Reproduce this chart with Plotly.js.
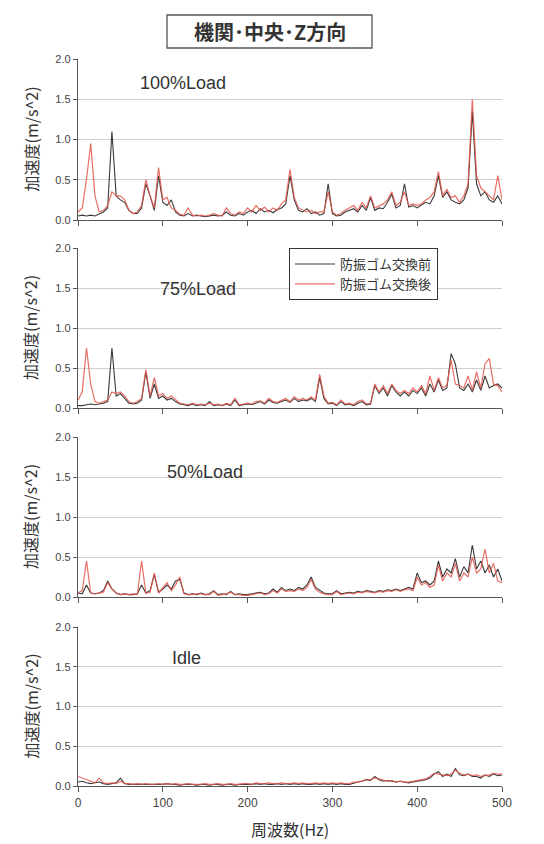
<!DOCTYPE html>
<html><head><meta charset="utf-8">
<script src="https://cdn.plot.ly/plotly-3.0.1.min.js"></script>
<style>html,body{margin:0;padding:0;background:#fff}#chart{width:544px;height:844px}</style>
</head><body><div id="chart"></div>
<script>
const freq = [0,5,10,15,20,25,30,35,40,45,50,55,60,65,70,75,80,85,90,95,
100,105,110,115,120,125,130,135,140,145,150,155,160,165,170,175,180,185,190,195,
200,205,210,215,220,225,230,235,240,245,250,255,260,265,270,275,280,285,290,295,
300,305,310,315,320,325,330,335,340,345,350,355,360,365,370,375,380,385,390,395,
400,405,410,415,420,425,430,435,440,445,450,455,460,465,470,475,480,485,490,495,500];

const xTicks = [0,100,200,300,400,500];
const yTicks = [0,0.5,1.0,1.5,2.0];
const seriesNames = ['防振ゴム交換前','防振ゴム交換後'];
const panelLabels = ['100%Load','75%Load','50%Load','Idle'];

// 100%Load
const before100 = [0.05,0.06,0.05,0.06,0.05,0.07,0.10,0.15,1.10,0.30,
0.25,0.22,0.12,0.08,0.08,0.15,0.45,0.30,0.12,0.55,
0.22,0.18,0.25,0.10,0.06,0.05,0.08,0.05,0.06,0.05,
0.04,0.05,0.06,0.05,0.06,0.10,0.06,0.05,0.08,0.06,
0.10,0.12,0.08,0.14,0.10,0.12,0.09,0.13,0.15,0.20,
0.55,0.25,0.12,0.10,0.14,0.08,0.10,0.06,0.08,0.45,
0.08,0.05,0.06,0.10,0.12,0.14,0.10,0.18,0.12,0.28,
0.12,0.15,0.14,0.22,0.32,0.15,0.18,0.45,0.16,0.18,
0.15,0.18,0.22,0.20,0.30,0.55,0.28,0.35,0.25,0.22,
0.20,0.25,0.40,1.35,0.45,0.30,0.35,0.25,0.22,0.30,0.20];
const after100 = [0.10,0.15,0.50,0.95,0.30,0.10,0.12,0.18,0.35,0.30,
0.30,0.25,0.12,0.08,0.10,0.18,0.50,0.30,0.15,0.65,
0.25,0.28,0.15,0.12,0.07,0.06,0.15,0.06,0.05,0.06,
0.05,0.06,0.08,0.06,0.05,0.15,0.08,0.06,0.10,0.08,
0.15,0.10,0.18,0.12,0.16,0.10,0.15,0.12,0.20,0.25,
0.63,0.28,0.15,0.12,0.10,0.12,0.08,0.10,0.10,0.35,
0.10,0.06,0.08,0.12,0.15,0.18,0.12,0.22,0.15,0.30,
0.15,0.18,0.20,0.25,0.35,0.18,0.22,0.35,0.18,0.20,
0.18,0.20,0.25,0.28,0.35,0.60,0.30,0.38,0.28,0.30,
0.22,0.30,0.45,1.50,0.55,0.40,0.35,0.30,0.25,0.55,0.25];

// 75%Load
const before75 = [0.03,0.03,0.04,0.05,0.04,0.05,0.06,0.08,0.75,0.15,
0.18,0.12,0.06,0.05,0.06,0.10,0.45,0.12,0.30,0.12,
0.15,0.10,0.12,0.08,0.05,0.04,0.03,0.05,0.03,0.04,
0.03,0.08,0.03,0.04,0.03,0.05,0.03,0.10,0.03,0.04,
0.05,0.04,0.06,0.08,0.05,0.10,0.07,0.06,0.08,0.10,
0.07,0.12,0.08,0.10,0.09,0.12,0.08,0.38,0.12,0.05,
0.06,0.03,0.08,0.04,0.05,0.03,0.06,0.08,0.04,0.05,
0.28,0.18,0.25,0.15,0.28,0.20,0.15,0.20,0.15,0.22,
0.18,0.25,0.15,0.30,0.20,0.35,0.22,0.25,0.68,0.55,
0.25,0.22,0.30,0.20,0.35,0.22,0.40,0.25,0.28,0.30,0.25];
const after75 = [0.10,0.20,0.75,0.30,0.08,0.06,0.08,0.10,0.20,0.18,
0.20,0.15,0.08,0.06,0.08,0.12,0.48,0.15,0.38,0.15,
0.18,0.12,0.15,0.10,0.06,0.05,0.04,0.06,0.04,0.05,
0.04,0.06,0.04,0.05,0.03,0.06,0.04,0.12,0.04,0.05,
0.06,0.05,0.08,0.09,0.06,0.12,0.08,0.07,0.10,0.12,
0.08,0.14,0.10,0.12,0.10,0.14,0.10,0.42,0.15,0.06,
0.07,0.04,0.10,0.05,0.06,0.04,0.08,0.10,0.05,0.06,
0.30,0.20,0.28,0.18,0.30,0.22,0.18,0.22,0.18,0.25,
0.20,0.28,0.18,0.40,0.22,0.38,0.25,0.28,0.60,0.30,
0.28,0.25,0.40,0.22,0.45,0.25,0.55,0.62,0.30,0.28,0.20];

// 50%Load
const before50 = [0.05,0.04,0.15,0.05,0.04,0.05,0.08,0.20,0.10,0.05,
0.03,0.04,0.03,0.03,0.04,0.15,0.05,0.08,0.28,0.06,
0.10,0.15,0.10,0.20,0.22,0.05,0.03,0.04,0.03,0.05,
0.03,0.04,0.08,0.03,0.04,0.03,0.07,0.03,0.04,0.03,
0.03,0.04,0.05,0.06,0.04,0.05,0.10,0.06,0.12,0.08,
0.10,0.08,0.12,0.10,0.15,0.25,0.12,0.08,0.05,0.04,
0.04,0.08,0.04,0.05,0.06,0.05,0.07,0.06,0.08,0.07,
0.06,0.08,0.07,0.09,0.08,0.10,0.08,0.10,0.12,0.10,
0.30,0.18,0.20,0.15,0.20,0.45,0.25,0.35,0.30,0.48,
0.25,0.38,0.30,0.65,0.35,0.45,0.30,0.40,0.25,0.35,0.20];
const after50 = [0.05,0.08,0.45,0.05,0.04,0.05,0.06,0.18,0.10,0.05,
0.03,0.04,0.03,0.04,0.03,0.45,0.05,0.06,0.30,0.05,
0.12,0.18,0.08,0.15,0.25,0.04,0.03,0.03,0.04,0.04,
0.03,0.03,0.07,0.02,0.03,0.04,0.06,0.03,0.03,0.02,
0.02,0.03,0.04,0.05,0.03,0.04,0.08,0.05,0.10,0.07,
0.08,0.07,0.10,0.08,0.12,0.22,0.10,0.06,0.04,0.03,
0.03,0.07,0.03,0.04,0.05,0.04,0.06,0.05,0.07,0.06,
0.05,0.07,0.06,0.08,0.07,0.09,0.07,0.09,0.10,0.08,
0.25,0.15,0.18,0.12,0.15,0.40,0.20,0.30,0.25,0.42,
0.20,0.30,0.25,0.50,0.30,0.35,0.60,0.30,0.42,0.20,0.18];

// Idle
const beforeIdle = [0.05,0.06,0.04,0.03,0.04,0.05,0.03,0.02,0.03,0.04,
0.10,0.03,0.02,0.02,0.02,0.02,0.02,0.02,0.02,0.02,
0.02,0.03,0.02,0.02,0.01,0.02,0.02,0.02,0.01,0.02,
0.02,0.01,0.02,0.02,0.01,0.02,0.02,0.01,0.02,0.02,
0.02,0.02,0.03,0.02,0.03,0.02,0.02,0.03,0.02,0.03,
0.02,0.03,0.02,0.03,0.02,0.02,0.03,0.02,0.03,0.02,
0.03,0.02,0.03,0.02,0.02,0.04,0.05,0.06,0.08,0.07,
0.12,0.08,0.06,0.07,0.06,0.05,0.06,0.05,0.04,0.05,
0.06,0.07,0.08,0.10,0.15,0.18,0.12,0.15,0.12,0.22,
0.14,0.13,0.15,0.12,0.12,0.10,0.14,0.12,0.15,0.13,0.14];
const afterIdle = [0.12,0.10,0.08,0.05,0.04,0.10,0.04,0.03,0.04,0.03,
0.06,0.03,0.03,0.02,0.03,0.02,0.03,0.02,0.02,0.03,
0.02,0.03,0.02,0.03,0.02,0.02,0.03,0.02,0.02,0.02,
0.03,0.02,0.02,0.03,0.02,0.02,0.03,0.02,0.02,0.03,
0.03,0.02,0.04,0.03,0.03,0.04,0.03,0.03,0.04,0.03,
0.03,0.04,0.03,0.04,0.03,0.03,0.04,0.03,0.04,0.03,
0.04,0.03,0.04,0.03,0.03,0.05,0.05,0.07,0.08,0.08,
0.10,0.09,0.07,0.06,0.07,0.05,0.06,0.05,0.05,0.06,
0.07,0.08,0.09,0.12,0.16,0.15,0.14,0.13,0.15,0.20,
0.16,0.14,0.15,0.13,0.14,0.12,0.13,0.14,0.16,0.15,0.15];

const befores = [before100, before75, before50, beforeIdle];
const afters = [after100, after75, after50, afterIdle];

const CJK = '"Noto Sans CJK JP", "Noto Sans", sans-serif';
const LAT = '"Liberation Sans", Arial, sans-serif';
const BLACK = '#3a3a3a';
const RED = 'rgba(228,86,76,0.85)';

const W = 544, H = 844, L = 78, R = 42, T = 59, B = 58;
const panelPx = [[59,220],[248,408],[437,597],[627,786]];
const ph = H - T - B, pw = W - L - R;
const py = y => (H - B - y) / ph;
const px = x => (x - L) / pw;

const traces = [];
const layout = {
  width: W, height: H,
  margin: {l: L, r: R, t: T, b: B},
  paper_bgcolor: '#fff', plot_bgcolor: '#fff',
  font: {family: CJK, color: '#333', size: 11},
  showlegend: true,
  legend: {
    x: px(289), y: py(248), xanchor: 'left', yanchor: 'top',
    bordercolor: '#333', borderwidth: 1, bgcolor: '#fff',
    font: {family: CJK, size: 13, color: '#333'},
    tracegroupgap: 0, itemwidth: 40
  },
  annotations: [],
  shapes: [{
    type: 'rect', xref: 'paper', yref: 'paper',
    x0: px(167), x1: px(372), y0: py(48), y1: py(15),
    line: {color: '#555', width: 1.3}, fillcolor: 'rgba(0,0,0,0)'
  }]
};

for (let i = 0; i < 4; i++) {
  const n = i === 0 ? '' : String(i + 1);
  const xa = 'x' + n, ya = 'y' + n;
  traces.push({x: freq, y: befores[i], xaxis: xa, yaxis: ya, type: 'scatter', mode: 'lines',
    name: seriesNames[0], legendgroup: 'b', showlegend: i === 1,
    line: {color: BLACK, width: 1.1}});
  traces.push({x: freq, y: afters[i], xaxis: xa, yaxis: ya, type: 'scatter', mode: 'lines',
    name: seriesNames[1], legendgroup: 'a', showlegend: i === 1,
    line: {color: RED, width: 1.2}});
  const [top, bot] = panelPx[i];
  layout['xaxis' + n] = {
    domain: [0, 1], range: [0, 500], anchor: ya,
    tickvals: xTicks, ticktext: xTicks.map(String),
    showticklabels: i === 3, ticks: 'outside', ticklen: 5, tickcolor: '#555',
    showline: true, linecolor: '#555', linewidth: 1.2, showgrid: false, zeroline: false,
    tickfont: {family: LAT, size: 12, color: '#444'}
  };
  layout['yaxis' + n] = {
    domain: [py(bot), py(top)], range: [0, 2], anchor: xa,
    tickvals: yTicks, ticktext: yTicks.map(v => v.toFixed(1)),
    ticks: 'outside', ticklen: 4, tickcolor: '#555',
    showline: true, linecolor: '#555', linewidth: 1.2,
    showgrid: true, gridcolor: '#cfcfcf', gridwidth: 1, zeroline: false,
    tickfont: {family: LAT, size: 11, color: '#444'}
  };
  layout.annotations.push({
    text: '加速度(m/s^2)', textangle: -90, xref: 'paper', yref: 'paper',
    x: px(30), y: py((top + bot) / 2), xanchor: 'center', yanchor: 'middle',
    showarrow: false, font: {family: CJK, size: 16, color: '#333'}
  });
}

const labelPos = [[183, 83], [198, 289], [205, 472], [186, 658]];
panelLabels.forEach((t, i) => {
  layout.annotations.push({
    text: t, xref: 'paper', yref: 'paper', x: px(labelPos[i][0]), y: py(labelPos[i][1]),
    xanchor: 'center', yanchor: 'middle', showarrow: false,
    font: {family: LAT, size: 18, color: '#333'}
  });
});

layout.annotations.push({
  text: '機関･中央･Z方向', xref: 'paper', yref: 'paper', x: px(270), y: py(32),
  xanchor: 'center', yanchor: 'middle', showarrow: false,
  font: {family: CJK, size: 20, color: '#333', weight: 'bold'}
});
layout.annotations.push({
  text: '周波数(Hz)', xref: 'paper', yref: 'paper', x: px(290), y: py(829),
  xanchor: 'center', yanchor: 'middle', showarrow: false,
  font: {family: CJK, size: 16, color: '#333'}
});

Plotly.newPlot('chart', traces, layout, {staticPlot: true, displayModeBar: false});
</script>
</body></html>
